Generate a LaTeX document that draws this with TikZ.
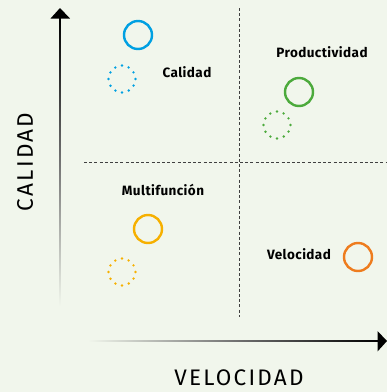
\documentclass[tikz,border=0pt]{standalone}
\usepackage{fontspec}
\setmainfont{Fira Sans}
\usetikzlibrary{calc}
\definecolor{bgcol}{RGB}{241,246,236}
\definecolor{calblue}{RGB}{0,160,226}
\definecolor{progreen}{RGB}{76,170,60}
\definecolor{mulyellow}{RGB}{246,176,0}
\definecolor{velorange}{RGB}{238,124,30}
\tikzset{
  solidring/.style={circle, draw=#1, line width=2.4pt, minimum size=28pt, inner sep=0pt},
  dotring/.style={circle, draw=#1, line width=2.7pt, minimum size=27pt, inner sep=0pt,
    line cap=round, dash pattern=on 0pt off 7.05pt},
  quadlabel/.style={font=\addfontfeatures{LetterSpace=3}\bfseries\fontsize{13.5}{15}\selectfont, inner sep=0pt},
  axislabel/.style={font=\addfontfeatures{LetterSpace=10}\fontsize{22.5}{26}\selectfont, inner sep=0pt},
  guide/.style={black!75, line width=0.9pt, dash pattern=on 3pt off 2.2pt}
}

\begin{document}
\begin{tikzpicture}[x=1pt, y=-1pt]
			%%%%% START %%%%%
			\fill[bgcol] (0, 0) rectangle (387, 392);
			\useasboundingbox (0, 0) rectangle (387, 392);
			
			% axes
			\shade[top color=black, bottom color=bgcol, middle color=black!55] (59.1, 18) rectangle (60.9, 306);
			\fill[black] (60, 8) -- (70, 18.5) -- (50.5, 18.5) -- cycle;
			\shade[left color=bgcol, right color=black, middle color=black!55] (88, 340.1) rectangle (379, 341.9);
			\fill[black] (387, 341) -- (377.5, 331) -- (377.5, 351.5) -- cycle;
			
			\node[axislabel, rotate=90] (ylab) at (25, 162) {CALIDAD};
			\node[axislabel] (xlab) at (239, 378) {VELOCIDAD};
			
			% quadrants
			\draw[guide] (239, 8) -- (239, 317);
			\draw[guide] (84, 162) -- (387, 162);
			
			\node[solidring=calblue] (calA) at (138, 35) {};
			\node[dotring=calblue] (calB) at (122, 79) {};
			\node[quadlabel] (cal) at (187, 72) {Calidad};
			
			\node[quadlabel] (pro) at (322, 52) {Productividad};
			\node[solidring=progreen] (proA) at (299, 92) {};
			\node[dotring=progreen] (proB) at (277, 125) {};
			
			\node[quadlabel] (mul) at (163, 190) {Multifunción};
			\node[solidring=mulyellow] (mulA) at (148, 229) {};
			\node[dotring=mulyellow] (mulB) at (122, 272) {};
			
			\node[quadlabel] (vel) at (299, 254) {Velocidad};
			\node[solidring=velorange] (velA) at (358, 257) {};
			%%%%% END %%%%%
		\end{tikzpicture}
\end{document}
